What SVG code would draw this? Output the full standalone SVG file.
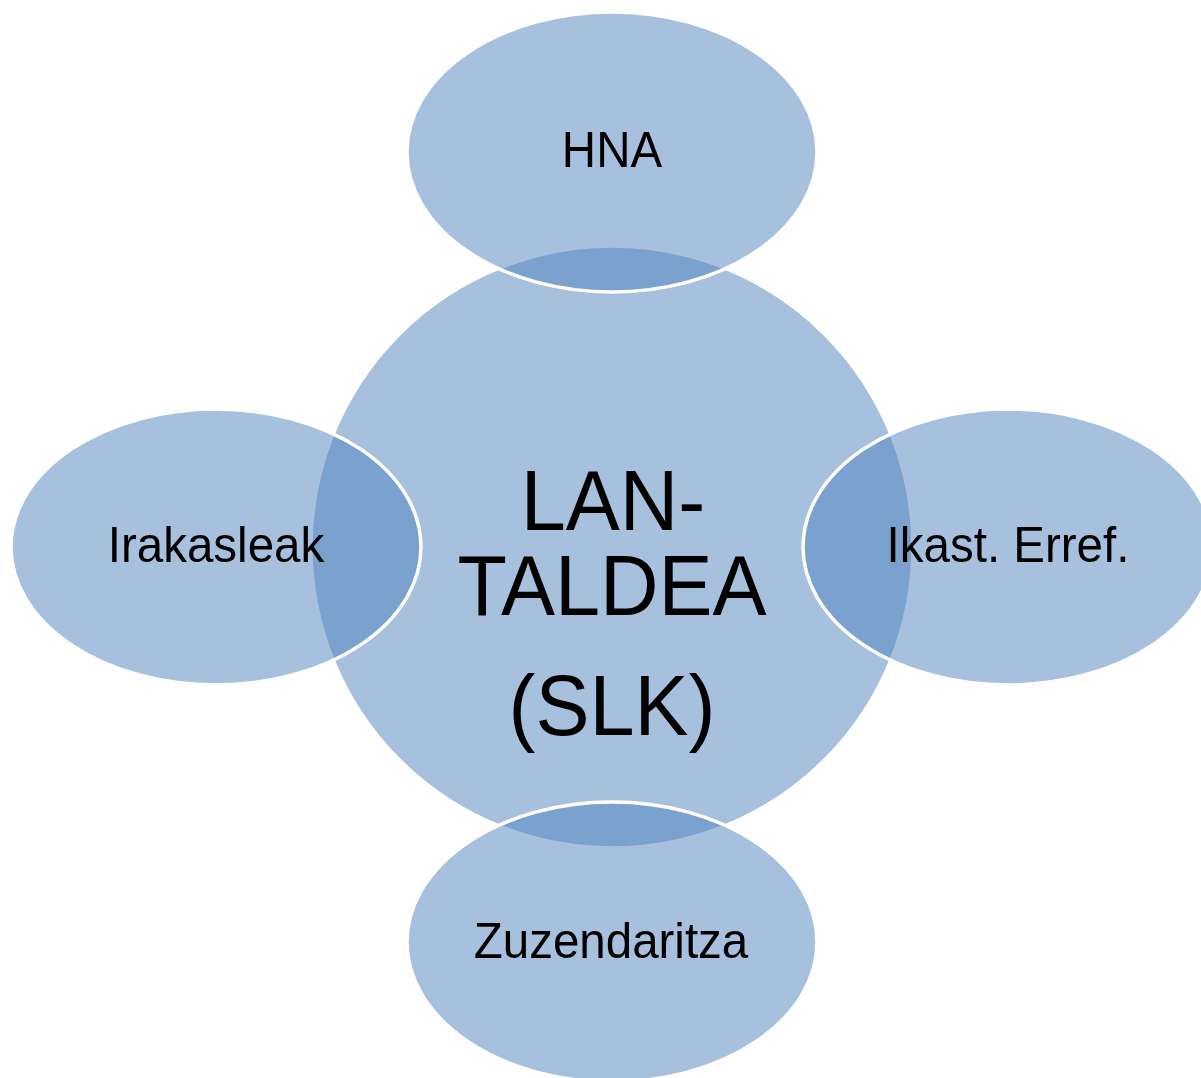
<svg xmlns="http://www.w3.org/2000/svg" width="1201" height="1078" viewBox="0 0 1201 1078">
<style>
.shape{fill:#4F81BD;fill-opacity:0.5;stroke:#FFFFFF;stroke-width:3.5}
.lbl{font-family:"Liberation Sans",Arial,sans-serif;font-size:47.5px;fill:#000000;text-anchor:middle}
.big{font-family:"Liberation Sans",Arial,sans-serif;font-size:81px;fill:#000000;text-anchor:middle}
</style>
<rect x="0" y="0" width="1201" height="1078" fill="#FFFFFF"/>
<g id="center">
<circle class="shape" cx="612" cy="547" r="301"/>
</g>
<g id="hna">
<ellipse class="shape" cx="612" cy="152" rx="205" ry="140"/>
<text class="lbl" transform="translate(612,167) scale(1,1.07)">HNA</text>
</g>
<g id="irakasleak">
<ellipse class="shape" cx="216" cy="547" rx="205" ry="138"/>
<text class="lbl" transform="translate(216,562) scale(1,1.07)">Irakasleak</text>
</g>
<g id="ikast">
<ellipse class="shape" cx="1008" cy="547" rx="205" ry="138"/>
<text class="lbl" transform="translate(1008,562) scale(1,1.07)">Ikast. Erref.</text>
</g>
<g id="zuzendaritza">
<ellipse class="shape" cx="612" cy="942" rx="205" ry="140"/>
<text class="lbl" transform="translate(611,958) scale(1,1.07)">Zuzendaritza</text>
</g>
<g id="center-label">
<text class="big" transform="translate(613,530) scale(1,1.05)">LAN-</text>
<text class="big" transform="translate(612,615) scale(1,1.05)">TALDEA</text>
<text class="big" transform="translate(612,735) scale(1,1.05)">(SLK)</text>
</g>
<g id="connectors"></g>
</svg>
